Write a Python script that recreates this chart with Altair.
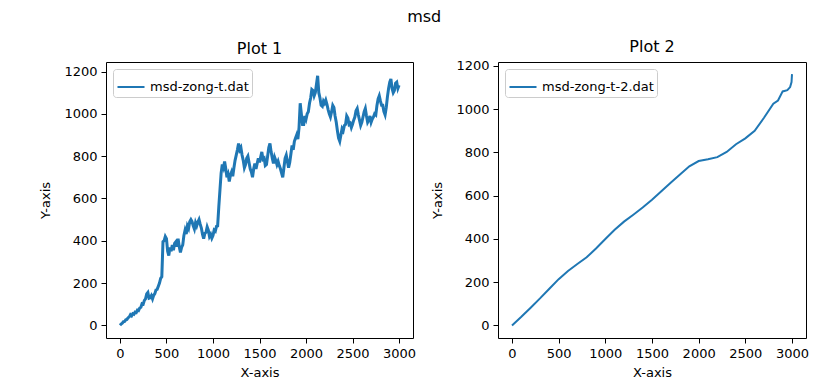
import altair as alt
import pandas as pd

# ---------------- data ----------------
name1 = "msd-zong-t.dat"
name2 = "msd-zong-t-2.dat"

y1 = [
    0, 6, 10, 17, 18, 26, 28, 36, 40, 50, 45, 55, 52, 62, 60, 72, 70, 82, 85, 102,
    100, 118, 125, 148, 155, 128, 130, 140, 125, 142, 150, 168, 170, 185, 200, 222,
    230, 395, 400, 420, 410, 350, 330, 368, 350, 380, 355, 388, 395, 372, 410, 372,
    345, 368, 380, 425, 450, 432, 470, 458, 490, 500, 490, 470, 455, 485, 470, 488,
    500, 478, 460, 430, 410, 435, 440, 465, 450, 420, 430, 412, 425, 450, 445, 468,
    470, 560, 640, 720, 760, 745, 775, 740, 700, 715, 680, 710, 725, 705, 745, 780,
    805, 830, 860, 830, 840, 805, 780, 745, 760, 790, 800, 770, 740, 725, 700, 740,
    765, 740, 765, 790, 770, 795, 820, 785, 790, 755, 760, 800, 840, 860, 820, 790,
    765, 795, 780, 760, 775, 755, 740, 720, 700, 745, 790, 805, 775, 745, 770, 810,
    850, 830, 870, 885, 900, 880, 935, 1050, 1000, 950, 950, 990, 975, 1000, 1010, 1050,
    1075, 1115, 1110, 1085, 1100, 1140, 1180, 1100, 1075, 1040, 1035, 1060, 1050, 1065, 1045, 1020,
    1000, 985, 1010, 1040, 1030, 990, 960, 920, 885, 870, 900, 930, 920, 945, 950, 990,
    980, 950, 955, 935, 950, 970, 985, 1015, 1025, 995, 970, 945, 960, 985, 1010, 1025,
    990, 960, 970, 990, 960, 975, 985, 1000, 995, 1040, 1070, 1085, 1060, 1040, 1040, 1010,
    995, 1030, 1080, 1120, 1150, 1165, 1120, 1100, 1110, 1145, 1150, 1120, 1135,
]
x1 = [i * 12.5 for i in range(len(y1))]

# Plot 2: smooth curve
x2 = [0, 100, 200, 300, 400, 500, 600, 700, 800, 900, 1000, 1100, 1200, 1300, 1400,
      1500, 1600, 1700, 1800, 1900, 2000, 2100, 2200, 2300, 2400, 2500, 2600, 2700,
      2800, 2850, 2900, 2950, 2980, 2995, 3000]
y2 = [0, 40, 82, 125, 170, 214, 252, 284, 315, 356, 400, 442, 480, 512, 545,
      581, 620, 660, 698, 736, 760, 768, 778, 802, 838, 865, 900, 960,
      1025, 1040, 1082, 1088, 1102, 1125, 1162]

x_ticks = [0, 500, 1000, 1500, 2000, 2500, 3000]
y_ticks = [0, 200, 400, 600, 800, 1000, 1200]

df1 = pd.DataFrame({"x": x1, "y": y1, "series": name1})
df2 = pd.DataFrame({"x": x2, "y": y2, "series": name2})

FONT = "DejaVu Sans"
BLUE = "#1f77b4"


def panel(df, name, title, ydomain, width, stroke):
    return (
        alt.Chart(df)
        .mark_line(strokeWidth=stroke, clip=True)
        .encode(
            x=alt.X(
                "x:Q",
                scale=alt.Scale(domain=[-150, 3150], nice=False, zero=False),
                axis=alt.Axis(values=x_ticks, format="d", title="X-axis"),
            ),
            y=alt.Y(
                "y:Q",
                scale=alt.Scale(domain=ydomain, nice=False, zero=False),
                axis=alt.Axis(values=y_ticks, format="d", title="Y-axis"),
            ),
            color=alt.Color(
                "series:N",
                scale=alt.Scale(domain=[name], range=[BLUE]),
                legend=alt.Legend(
                    title=None,
                    orient="top-left",
                    offset=7,
                    symbolType="stroke",
                    symbolSize=730,
                    symbolStrokeWidth=2,
                    labelFontSize=13,
                    labelFont=FONT,
                    labelColor="black",
                    padding=3,
                    strokeColor="#cccccc",
                    fillColor="white",
                    cornerRadius=3,
                ),
            ),
        )
        .properties(
            width=width,
            height=276,
            title=alt.TitleParams(title, fontSize=16, font=FONT, fontWeight="normal", offset=5),
        )
    )


p1 = panel(df1, name1, "Plot 1", [-60, 1245], 307, 3)
p2 = panel(df2, name2, "Plot 2", [-58, 1218], 308, 2)

chart = (
    alt.hconcat(p1, p2, spacing=14)
    .resolve_scale(color="independent")
    .resolve_legend(color="independent")
    .properties(
        title=alt.TitleParams("msd", fontSize=16, font=FONT, fontWeight="normal",
                              anchor="middle", offset=13),
        padding={"left": 31, "top": 1, "right": 5, "bottom": 0},
    )
    .configure_view(stroke="black", strokeWidth=1)
    .configure_axis(
        domain=False,
        grid=False,
        ticks=True,
        tickColor="black",
        tickSize=5,
        tickWidth=1,
        labelFont=FONT,
        labelFontSize=13,
        labelColor="black",
        labelPadding=4,
        titleFont=FONT,
        titleFontSize=13,
        titleFontWeight="normal",
        titleColor="black",
    )
    .configure_axisX(titlePadding=6)
    .configure_axisY(titlePadding=11)
)

chart.save("out.html", embed_options={"renderer": "svg", "actions": False})
